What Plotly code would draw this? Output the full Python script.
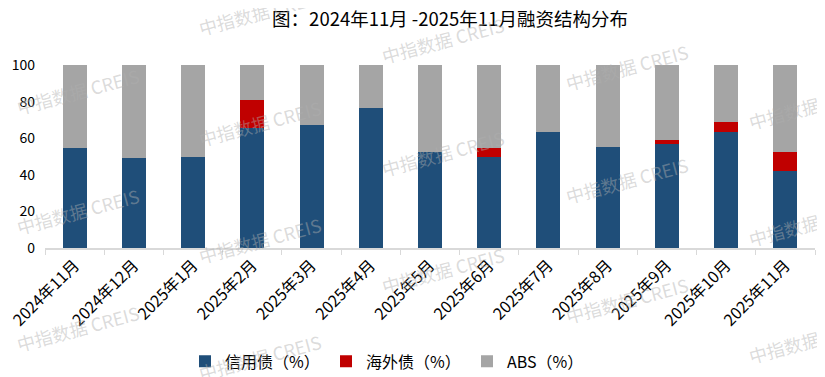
import plotly.graph_objects as go

months = ["2024年11月", "2024年12月", "2025年1月", "2025年2月", "2025年3月", "2025年4月",
          "2025年5月", "2025年6月", "2025年7月", "2025年8月", "2025年9月", "2025年10月", "2025年11月"]
credit = [54.6, 49.2, 49.7, 65.6, 67.2, 76.5, 52.5, 49.7, 63.4, 55.2, 56.8, 63.4, 41.9]
overseas = [0, 0, 0, 15.3, 0, 0, 0, 4.9, 0, 0, 2.2, 5.5, 10.6]
abs_share = [round(100 - c - o, 1) for c, o in zip(credit, overseas)]

names = ["信用债（%）", "海外债（%）", "ABS（%）"]
colors = ["#1F4E79", "#C00000", "#A5A5A5"]

FONT = "Noto Sans CJK SC"

fig = go.Figure()
for name, vals, col in zip(names, [credit, overseas, abs_share], colors):
    fig.add_trace(go.Bar(x=months, y=vals, name=name, marker=dict(color=col, line=dict(width=0))))

# page body has an 8px margin, so the figure is 8px smaller and everything is shifted by 8px
OFF = 8
PL, PB, PW, PH = 45, 248, 770, 183  # plot area in window pixels

# watermark grid (window pixel centres)
wm_cols = {78: [91, 211, 328], 260: [12, 123, 240, 357], 443: [40, 153, 270],
           627: [67, 180, 300], 810: [106, 223, 340]}
annotations = []
for xc, ys in wm_cols.items():
    for yc in ys:
        annotations.append(dict(
            text="中指数据 CREIS", xref="paper", yref="paper",
            x=(xc - PL) / PW, y=(PB - yc) / PH, xanchor="center", yanchor="middle",
            showarrow=False, textangle=-15,
            font=dict(family=FONT, size=18, color="rgba(175,175,175,0.45)")))

W, H = 825 - OFF, 377 - OFF
fig.update_layout(
    width=W, height=H,
    barmode="stack", bargap=0.595,
    plot_bgcolor="white", paper_bgcolor="white",
    margin=dict(l=PL - OFF, r=W - (PL - OFF) - PW, t=PB - PH - OFF, b=H - (PB - OFF), autoexpand=False),
    font=dict(family=FONT, color="#000000"),
    title=dict(text="图：2024年11月 -2025年11月融资结构分布", x=(450 - OFF) / W, xanchor="center",
               y=1 - (20 - OFF) / H, yanchor="middle", font=dict(size=18.5, color="#000000")),
    xaxis=dict(type="category", showline=True, linecolor="#D9D9D9", linewidth=1.5,
               ticks="outside", tickson="boundaries", ticklen=5, tickcolor="#D9D9D9",
               tickangle=-45, tickfont=dict(size=16, color="#000000"), showgrid=False,
               automargin=False),
    yaxis=dict(range=[0, 100], dtick=20, showgrid=False, zeroline=False, showline=False,
               ticks="", ticklabelstandoff=9, tickfont=dict(size=14, color="#000000"),
               automargin=False),
    legend=dict(orientation="h", x=(185 - PL) / PW, xanchor="left", y=-0.62, yanchor="middle",
                entrywidth=96, entrywidthmode="pixels", itemwidth=30,
                font=dict(size=16, color="#000000"), traceorder="normal"),
    annotations=annotations,
)

fig.write_html("out.html")
